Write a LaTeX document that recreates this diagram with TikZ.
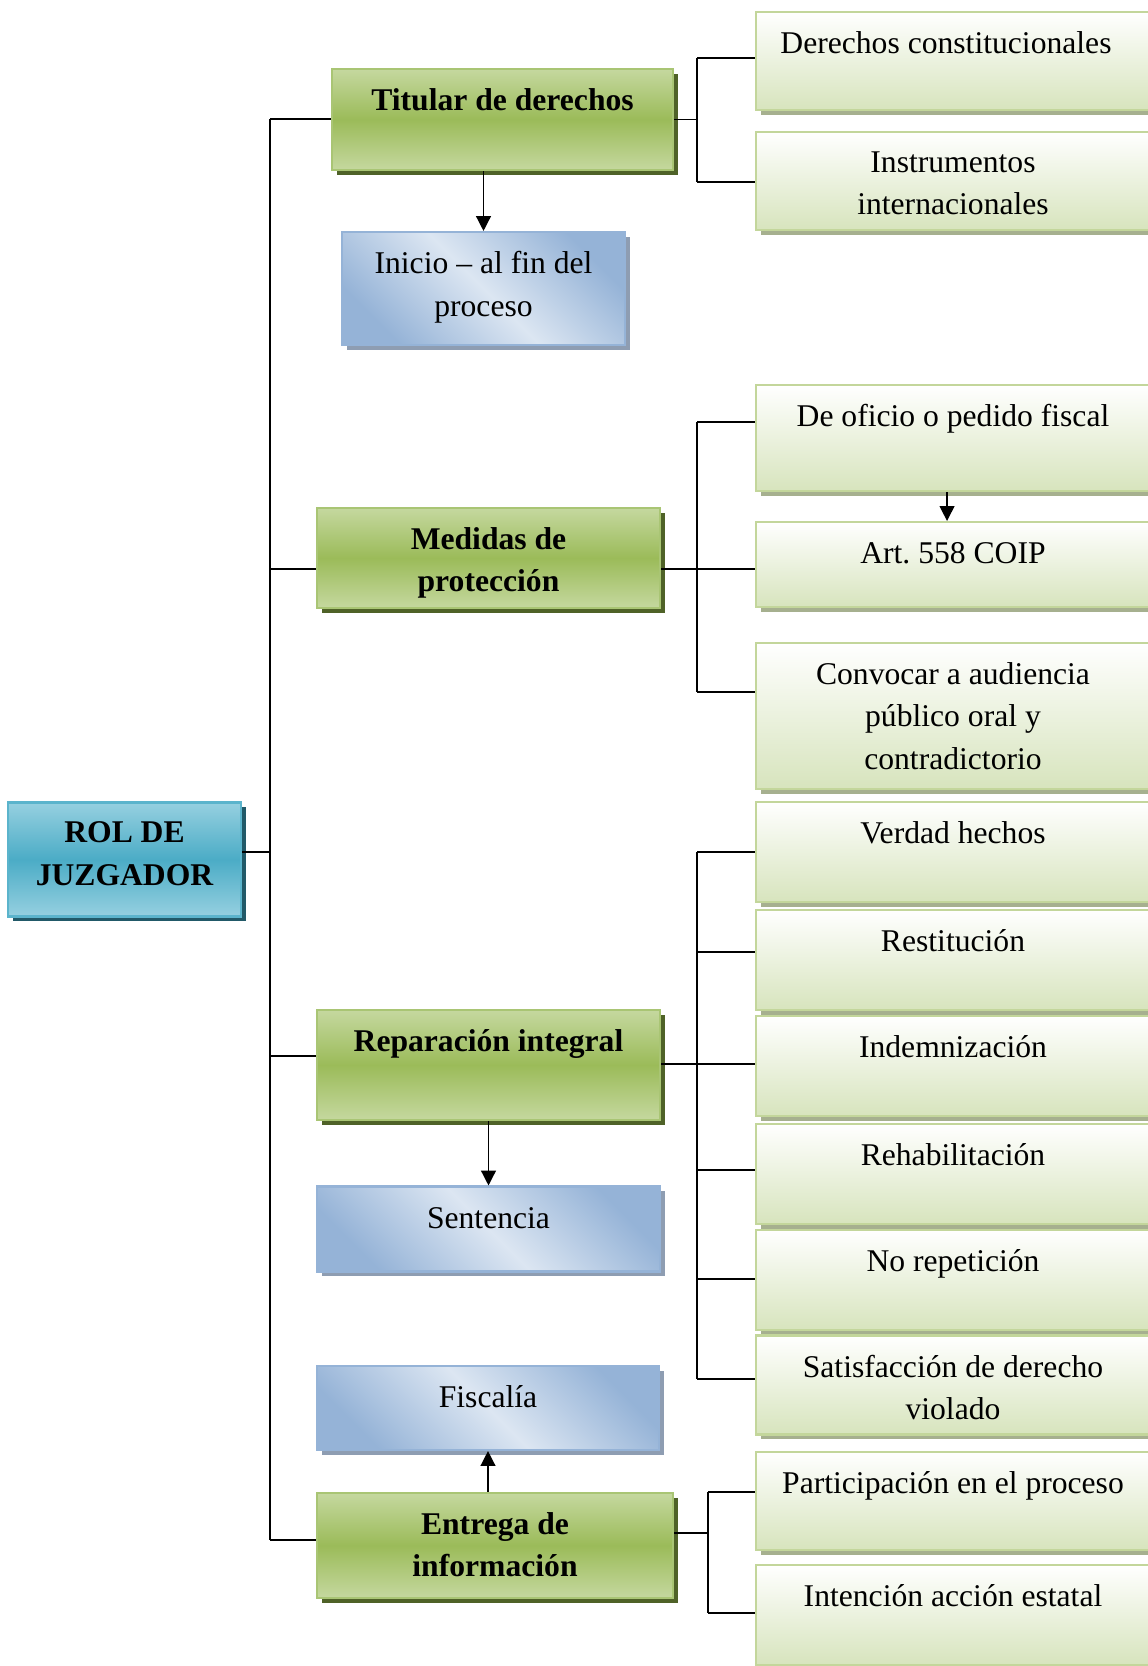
\documentclass[tikz,border=0pt]{standalone}
\usepackage{fontspec}
\setmainfont{Liberation Serif}
\usetikzlibrary{shadows,arrows.meta}

\definecolor{grnmid}{HTML}{9BBB59}
\definecolor{grnlt}{HTML}{C5D89F}
\definecolor{grnedge}{HTML}{A9C574}
\definecolor{grnshadow}{HTML}{4F6228}
\definecolor{tealmid}{HTML}{4BACC6}
\definecolor{teallt}{HTML}{96D0E0}
\definecolor{tealedge}{HTML}{5BB4CC}
\definecolor{tealshadow}{HTML}{215968}
\definecolor{bluedk}{HTML}{95B3D7}
\definecolor{bluelt}{HTML}{DCE6F2}
\definecolor{blueshadow}{HTML}{8E9DB2}
\definecolor{leafbot}{HTML}{D7E4BD}
\definecolor{leafedge}{HTML}{C3D69B}
\definecolor{leafshadow}{HTML}{A6B08F}

\tikzset{
  box/.style={draw, line width=1.2pt, inner sep=0pt},
  txt/.style={anchor=north, inner sep=0pt, align=center, yshift=-7.2pt,
    font=\fontsize{18}{24.2}\selectfont, execute at begin node=\strut},
  btxt/.style={txt, font=\fontsize{18}{24.2}\selectfont\bfseries},
  twoline/.style={yshift=-4.2pt},
  rolbox/.style={box, draw=tealedge, top color=teallt, bottom color=teallt, middle color=tealmid,
    drop shadow={shadow xshift=2.8pt, shadow yshift=-2.8pt, fill=tealshadow, opacity=1}},
  mainbox/.style={box, draw=grnedge, top color=grnlt, bottom color=grnlt, middle color=grnmid,
    drop shadow={shadow xshift=2.8pt, shadow yshift=-2.8pt, fill=grnshadow, opacity=1}},
  notebox/.style={box, draw=bluedk, left color=bluedk, right color=bluedk, middle color=bluelt,
    shading angle=-45,
    drop shadow={shadow xshift=2.8pt, shadow yshift=-2.8pt, fill=blueshadow, opacity=1}},
  leafbox/.style={box, draw=leafedge, top color=white, bottom color=leafbot, minimum width=7.88cm,
    drop shadow={shadow xshift=2.8pt, shadow yshift=-2.8pt, fill=leafshadow, opacity=1}},
  link/.style={line width=0.8pt},
}

\begin{document}
\begin{tikzpicture}[x=0.02cm, y=-0.02cm, >={Triangle[length=8.5pt,width=8.5pt]}]
\useasboundingbox (0,0) rectangle (1148,1666);
\clip (0,0) rectangle (1148,1666);

% root and main column
\node[rolbox, minimum width=4.66cm, minimum height=2.28cm, label={[btxt, twoline]north:ROL DE\\JUZGADOR}] (rol) at (124.5,859.5) {};
\node[mainbox, minimum width=6.82cm, minimum height=2.02cm, label={[btxt]north:Titular de derechos}] (tit) at (502.5,119.5) {};
\node[notebox, minimum width=5.66cm, minimum height=2.26cm, label={[txt, twoline]north:Inicio – al fin del\\proceso}] (ini) at (483.5,288.5) {};
\node[mainbox, minimum width=6.86cm, minimum height=2.00cm, label={[btxt, twoline]north:Medidas de\\protección}] (med) at (488.5,558) {};
\node[mainbox, minimum width=6.86cm, minimum height=2.20cm, label={[btxt]north:Reparación integral}] (rep) at (488.5,1065) {};
\node[notebox, minimum width=6.86cm, minimum height=1.70cm, label={[txt]north:Sentencia}] (sen) at (488.5,1229) {};
\node[notebox, minimum width=6.84cm, minimum height=1.68cm, label={[txt]north:Fiscalía}] (fis) at (488,1408) {};
\node[mainbox, minimum width=7.12cm, minimum height=2.10cm, label={[btxt, twoline]north:Entrega de\\información}] (ent) at (495,1545.5) {};

% right column
\node[leafbox, minimum height=1.96cm, label={[txt, xshift=-4pt]north:Derechos constitucionales}] (dc) at (953,61) {};
\node[leafbox, minimum height=1.96cm, label={[txt, twoline]north:Instrumentos\\internacionales}] (ii) at (953,181) {};
\node[leafbox, minimum height=2.12cm, label={[txt]north:De oficio o pedido fiscal}] (of) at (953,438) {};
\node[leafbox, minimum height=1.70cm, label={[txt]north:Art.\ 558 COIP}] (art) at (953,564.5) {};
\node[leafbox, minimum height=2.92cm, label={[txt, twoline]north:Convocar a audiencia\\público oral y\\contradictorio}] (conv) at (953,716) {};
\node[leafbox, minimum height=2.00cm, label={[txt]north:Verdad hechos}] (ver) at (953,852) {};
\node[leafbox, minimum height=2.00cm, label={[txt]north:Restitución}] (res) at (953,960) {};
\node[leafbox, minimum height=2.00cm, label={[txt]north:Indemnización}] (ind) at (953,1066) {};
\node[leafbox, minimum height=2.00cm, label={[txt]north:Rehabilitación}] (reh) at (953,1174) {};
\node[leafbox, minimum height=2.00cm, label={[txt]north:No repetición}] (nor) at (953,1280) {};
\node[leafbox, minimum height=1.98cm, label={[txt, twoline]north:Satisfacción de derecho\\violado}] (sat) at (953,1385) {};
\node[leafbox, minimum height=1.96cm, label={[txt]north:Participación en el proceso}] (par) at (953,1501) {};
\node[leafbox, minimum height=2.00cm, label={[txt]north:Intención acción estatal}] (int) at (953,1615) {};

% trunk
\coordinate (t0) at (270,852);
\coordinate (t1) at (270,119);
\coordinate (t2) at (270,569);
\coordinate (t3) at (270,1056);
\coordinate (t4) at (270,1540);
\draw[link] (t1) -- (t4);
\draw[link] (t0) -- (t0 -| rol.east);
\draw[link] (t1) -- (t1 -| tit.west);
\draw[link] (t2) -- (t2 -| med.west);
\draw[link] (t3) -- (t3 -| rep.west);
\draw[link] (t4) -- (t4 -| ent.west);

% titular
\coordinate (g1a) at (697,58);
\coordinate (g1b) at (697,182);
\draw[link] (g1a) -- (g1b);
\draw[link] (g1a) -- (g1a -| dc.west);
\draw[link] (g1b) -- (g1b -| ii.west);
\draw[link] (tit.east) -- (tit.east -| g1a);

% medidas
\coordinate (g2a) at (697,422);
\coordinate (g2b) at (697,569);
\coordinate (g2c) at (697,692);
\draw[link] (g2a) -- (g2c);
\draw[link] (g2a) -- (g2a -| of.west);
\draw[link] (g2b -| med.east) -- (g2b -| art.west);
\draw[link] (g2c) -- (g2c -| conv.west);

% reparacion
\coordinate (g3a) at (697,852);
\coordinate (g3b) at (697,952);
\coordinate (g3c) at (697,1064);
\coordinate (g3d) at (697,1170);
\coordinate (g3e) at (697,1279);
\coordinate (g3f) at (697,1379);
\draw[link] (g3a) -- (g3f);
\draw[link] (g3a) -- (g3a -| ver.west);
\draw[link] (g3b) -- (g3b -| res.west);
\draw[link] (g3c -| rep.east) -- (g3c -| ind.west);
\draw[link] (g3d) -- (g3d -| reh.west);
\draw[link] (g3e) -- (g3e -| nor.west);
\draw[link] (g3f) -- (g3f -| sat.west);

% entrega
\coordinate (g4a) at (708,1492);
\coordinate (g4b) at (708,1533);
\coordinate (g4c) at (708,1613);
\draw[link] (g4a) -- (g4c);
\draw[link] (g4b -| ent.east) -- (g4b);
\draw[link] (g4a) -- (g4a -| par.west);
\draw[link] (g4c) -- (g4c -| int.west);

% arrows
\draw[link, ->] (tit.south -| ini.north) -- (ini.north);
\draw[link, ->] ([xshift=-3.4pt]of.south) -- ([xshift=-3.4pt]art.north);
\draw[link, ->] (rep.south) -- (sen.north);
\draw[link, ->] (ent.north -| fis.south) -- (fis.south);
\end{tikzpicture}
\end{document}
